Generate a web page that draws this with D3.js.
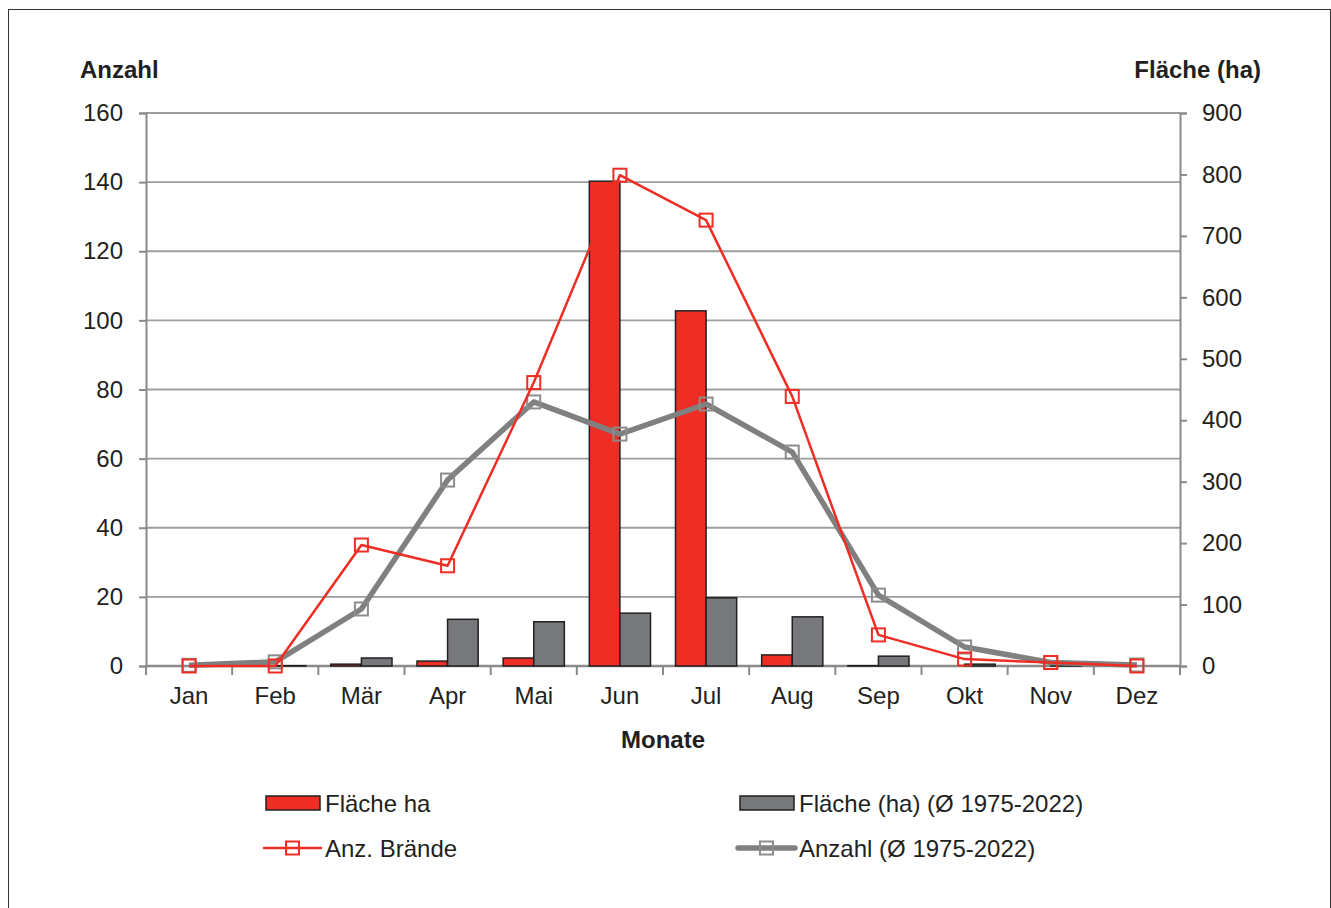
<!DOCTYPE html>
<html>
<head>
<meta charset="utf-8">
<script src="https://cdn.jsdelivr.net/npm/d3@7"></script>
<style>
  body { margin: 0; background: #fff; }
  text { font-family: "Liberation Sans", Arial, sans-serif; fill: #231f20; }
</style>
</head>
<body>
<script>
// data
var months = ["Jan", "Feb", "Mär", "Apr", "Mai", "Jun", "Jul", "Aug", "Sep", "Okt", "Nov", "Dez"];
var flaecheHa = [0, 0, 3, 8, 13, 789, 578, 18, 0.5, 0, 0, 0];          // right axis
var flaecheAvg = [0, 0.5, 13, 76, 72, 86, 111, 80, 16, 3, 1, 0];        // right axis
var anzBraende = [0, 0, 35, 29, 82, 142, 129, 78, 9, 2, 1, 0];          // left axis
var anzahlAvg = [0.2, 1.2, 16.5, 53.8, 76.4, 67.1, 75.8, 61.9, 20.5, 5.5, 1, 0.3]; // left axis
var leftTicks = [0, 20, 40, 60, 80, 100, 120, 140, 160];
var rightTicks = [0, 100, 200, 300, 400, 500, 600, 700, 800, 900];

var W = 1331, H = 908;
var margin = {top: 113, right: 151, bottom: 242, left: 146}
  , width = W - margin.left - margin.right
  , height = H - margin.top - margin.bottom;

var red = "#ee2d24", grey = "#77787b", axisGrey = "#8a8a8a";
var fs = "24px";

var root = d3.select("body").append("svg")
    .attr("width", W)
    .attr("height", H);

// outer frame
root.append("rect")
    .attr("x", 8.5).attr("y", 9.5)
    .attr("width", W - 9).attr("height", H)
    .attr("fill", "none")
    .attr("stroke", "#333")
    .attr("stroke-width", 1);

var svg = root.append("g")
    .attr("transform", "translate(" + margin.left + "," + margin.top + ")");

var x = d3.scaleBand().domain(months).range([0, width]).paddingInner(0.29).paddingOuter(0.145);
var xCenter = d3.scaleBand().domain(months).range([0, width]);
var xSub = d3.scaleBand().domain(["ha", "avg"]).range([0, x.bandwidth()]);
var yL = d3.scaleLinear().domain([0, 160]).range([height, 0]);
var yR = d3.scaleLinear().domain([0, 900]).range([height, 0]);

// gridlines
svg.selectAll(".grid")
    .data(leftTicks.slice(1))
    .enter().append("line")
    .attr("x1", 0).attr("x2", width)
    .attr("y1", function (d) { return yL(d); })
    .attr("y2", function (d) { return yL(d); })
    .attr("stroke", "#9d9d9d")
    .attr("stroke-width", 1.8);

// axes
var leftAxis = svg.append("g")
    .call(d3.axisLeft(yL).tickValues(leftTicks).tickSize(7).tickPadding(16));
var rightAxis = svg.append("g")
    .attr("transform", "translate(" + width + ",0)")
    .call(d3.axisRight(yR).tickValues(rightTicks).tickSize(7).tickPadding(15));
var bottomAxis = svg.append("g")
    .attr("transform", "translate(0," + height + ")")
    .call(d3.axisBottom(xCenter).tickSize(0).tickPadding(21));

[leftAxis, rightAxis, bottomAxis].forEach(function (a) {
    a.selectAll("path.domain").attr("stroke", axisGrey).attr("stroke-width", 2);
    a.selectAll(".tick line").attr("stroke", axisGrey).attr("stroke-width", 2);
    a.selectAll("text").style("font-size", fs).attr("fill", "#231f20")
        .style("font-family", "'Liberation Sans', Arial, sans-serif");
});
bottomAxis.selectAll("path.domain").remove();
bottomAxis.append("line")
    .attr("x1", 0).attr("x2", width)
    .attr("stroke", axisGrey).attr("stroke-width", 2.5);

// category boundary ticks
bottomAxis.selectAll(".btick")
    .data(months.concat(["end"]))
    .enter().append("line")
    .attr("x1", function (d, i) { return i * xCenter.step(); })
    .attr("x2", function (d, i) { return i * xCenter.step(); })
    .attr("y1", 0).attr("y2", 9)
    .attr("stroke", axisGrey).attr("stroke-width", 2);

// bars
var groups = svg.selectAll(".month")
    .data(months)
    .enter().append("g")
    .attr("transform", function (d) { return "translate(" + x(d) + ",0)"; });

groups.append("rect")
    .attr("x", xSub("ha"))
    .attr("width", xSub.bandwidth())
    .attr("y", function (d, i) { return yR(flaecheHa[i]); })
    .attr("height", function (d, i) { return height - yR(flaecheHa[i]); })
    .attr("fill", red)
    .attr("stroke", "#231f20")
    .attr("stroke-width", function (d, i) { return flaecheHa[i] > 0 ? 1.5 : 0; });

groups.append("rect")
    .attr("x", xSub("avg"))
    .attr("width", xSub.bandwidth())
    .attr("y", function (d, i) { return yR(flaecheAvg[i]); })
    .attr("height", function (d, i) { return height - yR(flaecheAvg[i]); })
    .attr("fill", grey)
    .attr("stroke", "#231f20")
    .attr("stroke-width", function (d, i) { return flaecheAvg[i] > 0 ? 1.5 : 0; });

// lines
function cx(d, i) { return xCenter(months[i]) + xCenter.bandwidth() / 2; }

var line = d3.line().x(cx).y(function (d) { return yL(d); });
svg.append("path")
    .datum(anzahlAvg)
    .attr("d", line)
    .attr("fill", "none")
    .attr("stroke", "#808080")
    .attr("stroke-width", 5.5)
    .attr("stroke-linejoin", "round");

svg.selectAll(".mGrey")
    .data(anzahlAvg)
    .enter().append("rect")
    .attr("x", function (d, i) { return cx(d, i) - 6.5; })
    .attr("y", function (d) { return yL(d) - 6.5; })
    .attr("width", 13).attr("height", 13)
    .attr("fill", "none")
    .attr("stroke", "#8c8c8c")
    .attr("stroke-width", 2);

svg.append("path")
    .datum(anzBraende)
    .attr("d", line)
    .attr("fill", "none")
    .attr("stroke", red)
    .attr("stroke-width", 2.5)
    .attr("stroke-linejoin", "round");

svg.selectAll(".mRed")
    .data(anzBraende)
    .enter().append("rect")
    .attr("x", function (d, i) { return cx(d, i) - 6.5; })
    .attr("y", function (d) { return yL(d) - 6.5; })
    .attr("width", 13).attr("height", 13)
    .attr("fill", "none")
    .attr("stroke", red)
    .attr("stroke-width", 2);

// axis titles
root.append("text")
    .attr("x", 80).attr("y", 78)
    .style("font-size", fs).style("font-weight", "bold")
    .text("Anzahl");
root.append("text")
    .attr("x", 1261).attr("y", 78)
    .attr("text-anchor", "end")
    .style("font-size", fs).style("font-weight", "bold")
    .text("Fläche (ha)");
root.append("text")
    .attr("x", margin.left + width / 2).attr("y", 748)
    .attr("text-anchor", "middle")
    .style("font-size", fs).style("font-weight", "bold")
    .text("Monate");

// legend
var legendItems = [
    {label: "Fläche ha", type: "bar", color: red, x: 266, y: 803},
    {label: "Fläche (ha) (Ø 1975-2022)", type: "bar", color: grey, x: 740, y: 803},
    {label: "Anz. Brände", type: "line", color: red, marker: red, w: 2.5, x: 264, y: 848},
    {label: "Anzahl (Ø 1975-2022)", type: "line", color: "#808080", marker: "#8c8c8c", w: 5.5, x: 738, y: 848}
];

var legend = root.selectAll(".legend")
    .data(legendItems)
    .enter().append("g")
    .attr("class", "legend")
    .attr("transform", function (d) { return "translate(" + d.x + "," + d.y + ")"; });

legend.each(function (d) {
    var g = d3.select(this);
    if (d.type === "bar") {
        g.append("rect")
            .attr("x", 0).attr("y", -7)
            .attr("width", 54).attr("height", 14)
            .attr("fill", d.color)
            .attr("stroke", "#231f20").attr("stroke-width", 1.5);
    } else {
        g.append("line")
            .attr("x1", 0).attr("x2", 57)
            .attr("stroke", d.color).attr("stroke-width", d.w)
            .attr("stroke-linecap", "round");
        g.append("rect")
            .attr("x", 22).attr("y", -6.5)
            .attr("width", 13).attr("height", 13)
            .attr("fill", "none")
            .attr("stroke", d.marker).attr("stroke-width", 2);
    }
    g.append("text")
        .attr("x", d.type === "bar" ? 59 : 61)
        .attr("y", 9)
        .style("font-size", fs)
        .text(d.label);
});
</script>
</body>
</html>
